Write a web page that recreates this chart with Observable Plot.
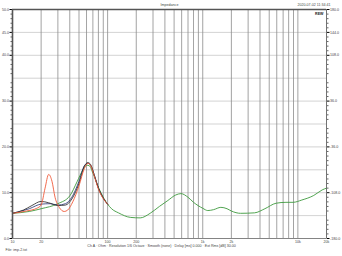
<!DOCTYPE html>
<html><head><meta charset="utf-8">
<script src="https://cdn.jsdelivr.net/npm/d3@7"></script>
<script src="https://cdn.jsdelivr.net/npm/@observablehq/plot@0.6"></script>
<style>body{margin:0;background:#fff}svg{display:block;font-family:"Liberation Sans",Arial,sans-serif}</style>
</head><body><div id="c"></div><script>
// Frequencies (Hz) and impedance (ohm)
const greenFreq = [10,15,20,30,40,48,55,60,64,70,80,90,100];
const greenOhm  = [5.5,5.9,6.5,7.6,9.3,12.5,15.0,16.0,15.9,14.3,11.2,9.0,7.5];
const blackFreq = [10,13,16,20,24,30,36,42,50,57,62,66,72,80,90,100];
const blackOhm  = [5.5,6.2,7.2,8.1,7.8,7.2,7.3,8.6,12.0,15.8,16.6,16.2,14.0,11.0,8.8,7.5];
const navyFreq  = [10,15,20,25,30,36,42,50,57,62,67,72,80,90,100];
const navyOhm   = [5.5,6.5,7.5,7.6,7.3,7.6,9.0,12.5,15.9,16.4,15.8,14.0,11.0,8.8,7.5];
const redFreq   = [10,14,18,20,22,24,26,28,31,35,38,43,50,57,62,66,72,80,90,100];
const redOhm    = [5.5,6.0,6.6,7.3,11.0,14.0,12.5,9.0,6.8,5.9,6.2,8.0,11.5,15.3,16.4,16.0,13.8,10.8,8.7,7.5];
// shared high-frequency part (all traces coincide, drawn in green)
const tailFreq = [110,130,175,220,280,350,430,520,590,700,800,1000,1130,1300,1550,1800,2000,2500,3500,4500,5900,7500,8900,11000,14700,18000,20000];
const tailOhm  = [6.5,5.6,4.6,4.5,5.5,7.0,8.3,9.5,9.8,9.0,7.9,6.6,6.1,6.3,6.8,6.5,6.0,5.5,5.6,6.5,7.7,7.9,7.9,8.4,9.4,10.6,11.0];

const xTicks = [10,20,50,100,200,500,1000,2000,5000,10000,20000];
const xTickLabels = ["10","20","50","100","200","500","1k","2k","5k","10k","20k"];
const xGrid = [20,30,40,50,60,70,80,90,100,200,300,400,500,600,700,800,900,1000,2000,3000,4000,5000,6000,7000,8000,9000,10000,20000];
const yGrid = [5,10,15,20,25,30,35,40,45];
const leftTicks = [0,10,20,30,40,45,50];
const leftLabels = ["0.0","10.0","20.0","30.0","40.0","45.0","50.0"];
const rightLabels = ["-180.0","-108.0","-36.0","36.0","108.0","144.0","180.0"];
const yMinor = [1,2,3,4,6,7,8,9,11,12,13,14,16,17,18,19,21,22,23,24,26,27,28,29,31,32,33,34,36,37,38,39,41,42,43,44,46,47,48,49];

const title = "Impedance";
const stamp = "2020-07-02 11:34:41";
const caption = "Ch A · Ohm · Resolution 1/6 Octave · Smooth (none) · Delay [ms] 0.000 · Ext Rms [dB] 30.00";
const fileNote = "File: imp-2.txt";

const toRows = (f, o) => f.map((v, i) => ({f: v, z: o[i]}));
const green = toRows(greenFreq.concat(tailFreq), greenOhm.concat(tailOhm));
const black = toRows(blackFreq, blackOhm);
const navy = toRows(navyFreq, navyOhm);
const red = toRows(redFreq, redOhm);

const fs = 3.6;
const blank = () => "";
const chart = Plot.plot({
  width: 342, height: 256,
  marginLeft: 12, marginRight: 16, marginTop: 9, marginBottom: 18,
  style: {background: "#fff", fontFamily: "Liberation Sans, Arial, sans-serif"},
  x: {type: "log", domain: [10, 20000]},
  y: {domain: [0, 50]},
  marks: [
    Plot.ruleY(yGrid, {stroke: "#c8c8c8", strokeWidth: 0.8}),
    Plot.ruleX(xGrid, {stroke: "#8c8c8c", strokeWidth: 0.8}),
    Plot.axisX({ticks: xTicks, tickFormat: (d) => xTickLabels[xTicks.indexOf(d)], tickSize: 0, tickPadding: 1.5, fontSize: fs, fill: "#444", label: null}),
    Plot.axisY({ticks: yMinor, tickFormat: blank, tickSize: 1.5, stroke: "#666", label: null}),
    Plot.axisY({ticks: leftTicks, tickFormat: (d) => leftLabels[leftTicks.indexOf(d)], tickSize: 2.5, tickPadding: 1, fontSize: fs, fill: "#444", label: null}),
    Plot.axisY({anchor: "right", ticks: yMinor, tickFormat: blank, tickSize: 1.5, stroke: "#666", label: null}),
    Plot.axisY({anchor: "right", ticks: leftTicks, tickFormat: (d) => rightLabels[leftTicks.indexOf(d)], tickSize: 2.5, tickPadding: 1, fontSize: fs, fill: "#444", label: null}),
    Plot.line(green, {x: "f", y: "z", stroke: "#3d9a3d", strokeWidth: 0.9, curve: "monotone-x"}),
    Plot.line(navy, {x: "f", y: "z", stroke: "#23306e", strokeWidth: 0.8, curve: "monotone-x"}),
    Plot.line(black, {x: "f", y: "z", stroke: "#222", strokeWidth: 0.8, curve: "monotone-x"}),
    Plot.line(red, {x: "f", y: "z", stroke: "#ef5a3a", strokeWidth: 0.9, curve: "monotone-x"}),
    Plot.frame({stroke: "#666", strokeWidth: 0.8}),
    Plot.ruleX([10], {stroke: "#555", strokeWidth: 1.6}),
    Plot.ruleY([50], {stroke: "#555", strokeWidth: 1.4}),
    Plot.text([title], {frameAnchor: "top", dy: -6, fontSize: fs, fill: "#444"}),
    Plot.text([stamp], {frameAnchor: "top-right", dx: 4, dy: -6, textAnchor: "end", fontSize: fs, fill: "#444"}),
    Plot.text(["REW"], {frameAnchor: "top-right", dx: -3, dy: 2.5, textAnchor: "end", fontSize: fs, fontWeight: "bold", fill: "#222"}),
    Plot.text([caption], {frameAnchor: "bottom", dx: -8, dy: 8, fontSize: fs, fill: "#444"}),
    Plot.text([fileNote], {frameAnchor: "bottom-left", dx: -7, dy: 12, textAnchor: "start", fontSize: fs, fill: "#444"})
  ]
});
document.getElementById("c").appendChild(chart);
</script></body></html>
